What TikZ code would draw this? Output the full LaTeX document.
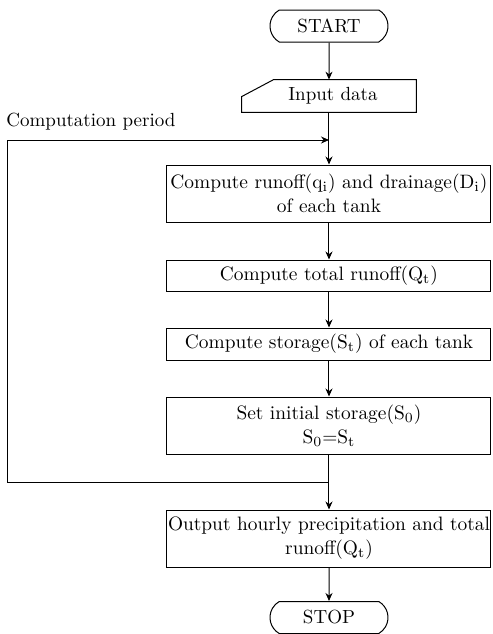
\documentclass[tikz,border=0pt]{standalone}
\usetikzlibrary{arrows.meta,shapes.misc}
\begin{document}
\begin{tikzpicture}[x=0.5pt,y=-0.5pt,
  every node/.style={font=\fontsize{9.5}{12}\selectfont},
  line/.style={line width=0.5pt},
  arr/.style={line width=0.5pt,-{Stealth[length=4pt,width=3.5pt]}},
  procbox/.style={draw,line width=0.5pt,rectangle,minimum width=162pt,inner sep=0.5pt,align=center,font=\fontsize{9.7}{12}\selectfont},
  termbox/.style={draw,line width=0.5pt,rounded rectangle,rounded rectangle arc length=120,minimum width=61pt,minimum height=16pt,inner sep=1pt}]
\useasboundingbox (0,0) rectangle (493,634);
\node[termbox] (start) at (329,26) {START};
\node[minimum width=87pt,minimum height=16pt,inner sep=0pt] (in) at (329,96) {\hspace*{4pt}Input data};
\draw[line] ([xshift=16pt]in.north west) -- (in.north east) -- (in.south east) -- (in.south west) -- ([yshift=-8.5pt]in.north west) -- cycle;
\node[anchor=west,inner sep=0pt] (lab) at (6,122) {Computation period};
\coordinate (j1) at (329,140);
\coordinate (c1) at (8,140);
\node[procbox,minimum height=28.5pt] (b1) at (329,193.5) {Compute runoff(q$_{\rm i}$) and drainage(D$_{\rm i}$)\\of each tank};
\node[procbox,minimum height=15.5pt] (b2) at (329,275.5) {Compute total runoff(Q$_{\rm t}$)};
\node[procbox,minimum height=16pt] (b3) at (329,344) {Compute storage(S$_{\rm t}$) of each tank};
\node[procbox,minimum height=28.5pt] (b4) at (329,425.5) {Set initial storage(S$_0$)\\S$_0$=S$_{\rm t}$};
\coordinate (j2) at (329,482);
\coordinate (c2) at (8,482);
\node[procbox,minimum height=28.5pt] (b5) at (329,538.5) {Output hourly precipitation and total\\runoff(Q$_{\rm t}$)};
\node[termbox] (stop) at (329,617.5) {STOP};
\draw[arr] (start) -- (in);
\draw[line] (in) -- (j1);
\draw[arr] (j1) -- (b1);
\draw[arr] (b1) -- (b2);
\draw[arr] (b2) -- (b3);
\draw[arr] (b3) -- (b4);
\draw[arr] (b4.south) -- (j2) -- (c2) -- (c1) -- (j1);
\draw[arr] (j2) -- (b5);
\draw[arr] (b5) -- (stop);
\end{tikzpicture}
\end{document}
